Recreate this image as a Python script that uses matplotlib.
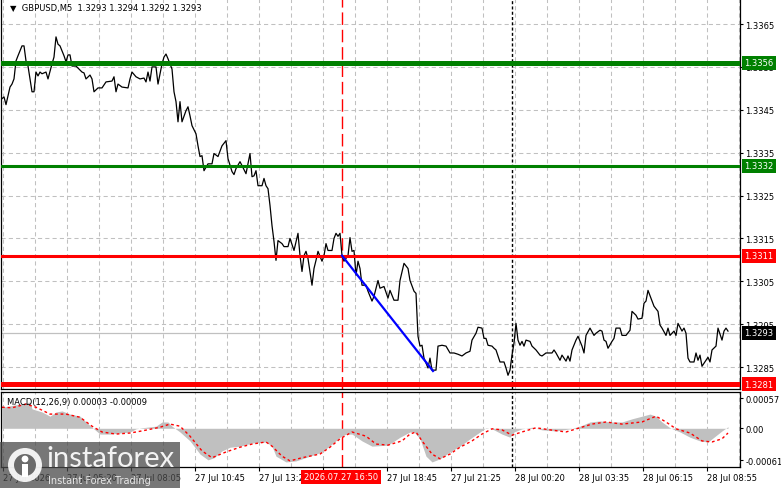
import numpy as np
import matplotlib.pyplot as plt
import matplotlib.transforms as mtransforms
from matplotlib.patches import Rectangle, Circle

# ---- data (bar index = 5 minute step) ----
price_pts = [
    (1, 1.33476), (2, 1.33480), (3, 1.33462), (5, 1.33503), (6, 1.33510), (7, 1.33522), (8, 1.33564),
    (9, 1.33576), (11, 1.33599), (12, 1.33599), (13, 1.33564), (14, 1.33552), (16, 1.33492), (17, 1.33492),
    (18, 1.33538), (19, 1.33529), (20, 1.33538), (21, 1.33534), (23, 1.33538), (24, 1.33522), (26, 1.33557),
    (27, 1.33573), (28, 1.33620), (29, 1.33603), (30, 1.33599), (32, 1.33576), (33, 1.33562), (34, 1.33578),
    (35, 1.33578), (36, 1.33552), (38, 1.33552), (41, 1.33538), (42, 1.33536), (43, 1.33522), (45, 1.33531),
    (46, 1.33522), (47, 1.33492), (49, 1.33501), (51, 1.33501), (53, 1.33515), (56, 1.33517), (57, 1.33527),
    (58, 1.33492), (59, 1.33510), (61, 1.33503), (64, 1.33501), (65, 1.33522), (66, 1.33538), (68, 1.33527),
    (70, 1.33522), (72, 1.33524), (73, 1.33515), (74, 1.33538), (75, 1.33517), (76, 1.33550), (78, 1.33550),
    (79, 1.33510), (81, 1.33557), (82, 1.33573), (83, 1.33580), (84, 1.33569), (86, 1.33545), (87, 1.33492),
    (88, 1.33469), (89, 1.33422), (90, 1.33469), (91, 1.33422), (93, 1.33448), (94, 1.33457), (95, 1.33436),
    (96, 1.33413), (98, 1.33394), (99, 1.33366), (100, 1.33341), (101, 1.33343), (102, 1.33308), (104, 1.33324),
    (106, 1.33324), (107, 1.33348), (109, 1.33341), (111, 1.33366), (113, 1.33378), (114, 1.33336), (116, 1.33306),
    (117, 1.33299), (118, 1.33313), (120, 1.33329), (121, 1.33320), (123, 1.33301), (124, 1.33324), (125, 1.33348),
    (126, 1.33294), (127, 1.33296), (128, 1.33308), (129, 1.33273), (131, 1.33273), (132, 1.33290), (133, 1.33273),
    (134, 1.33266), (135, 1.33227), (136, 1.33180), (137, 1.33143), (138, 1.33099), (139, 1.33145), (141, 1.33138),
    (142, 1.33131), (144, 1.33131), (145, 1.33150), (147, 1.33122), (149, 1.33162), (150, 1.33110), (151, 1.33073),
    (152, 1.33110), (153, 1.33120), (154, 1.33103), (156, 1.33041), (157, 1.33080), (158, 1.33099), (159, 1.33120),
    (161, 1.33097), (162, 1.33110), (163, 1.33138), (164, 1.33122), (166, 1.33122), (167, 1.33150), (168, 1.33162),
    (169, 1.33155), (170, 1.33162), (171, 1.33110), (172, 1.33097), (174, 1.33110), (175, 1.33152), (176, 1.33120),
    (177, 1.33122), (178, 1.33064), (179, 1.33097), (180, 1.33080), (181, 1.33041), (183, 1.33041), (184, 1.33027),
    (186, 1.33004), (187, 1.33015), (189, 1.33052), (190, 1.33034), (192, 1.33038), (194, 1.33011), (195, 1.33029),
    (197, 1.33006), (199, 1.33006), (200, 1.33052), (202, 1.33092), (204, 1.33080), (205, 1.33052), (207, 1.33027),
    (208, 1.33022), (209, 1.32922), (210, 1.32899), (211, 1.32901), (212, 1.32871), (214, 1.32848), (215, 1.32871),
    (216, 1.32843), (218, 1.32843), (219, 1.32899), (221, 1.32901), (223, 1.32899), (225, 1.32883), (227, 1.32883),
    (229, 1.32880), (231, 1.32876), (233, 1.32883), (235, 1.32887), (236, 1.32913), (238, 1.32929), (239, 1.32943),
    (241, 1.32941), (242, 1.32917), (243, 1.32917), (244, 1.32901), (246, 1.32899), (247, 1.32894), (248, 1.32890),
    (249, 1.32876), (250, 1.32862), (252, 1.32862), (253, 1.32848), (254, 1.32831), (255, 1.32843), (256, 1.32878),
    (257, 1.32906), (258, 1.32952), (259, 1.32913), (260, 1.32901), (261, 1.32910), (262, 1.32899), (263, 1.32913),
    (265, 1.32910), (266, 1.32899), (268, 1.32890), (270, 1.32878), (271, 1.32876), (273, 1.32883), (276, 1.32883),
    (277, 1.32890), (278, 1.32883), (280, 1.32866), (281, 1.32878), (283, 1.32864), (284, 1.32876), (285, 1.32864),
    (286, 1.32890), (288, 1.32913), (289, 1.32922), (291, 1.32899), (292, 1.32883), (293, 1.32924), (295, 1.32941),
    (297, 1.32924), (298, 1.32929), (300, 1.32936), (301, 1.32934), (302, 1.32913), (303, 1.32910), (304, 1.32894),
    (306, 1.32910), (307, 1.32917), (308, 1.32941), (310, 1.32941), (311, 1.32924), (313, 1.32924), (315, 1.32936),
    (316, 1.32980), (318, 1.32971), (319, 1.32962), (321, 1.32964), (322, 1.32999), (323, 1.33004), (324, 1.33029),
    (326, 1.33004), (327, 1.32992), (329, 1.32980), (330, 1.32948), (331, 1.32941), (333, 1.32924), (334, 1.32941),
    (335, 1.32924), (337, 1.32934), (338, 1.32924), (339, 1.32952), (341, 1.32934), (342, 1.32941), (343, 1.32929),
    (344, 1.32871), (345, 1.32862), (347, 1.32862), (348, 1.32883), (349, 1.32866), (350, 1.32878), (351, 1.32852),
    (353, 1.32866), (354, 1.32873), (355, 1.32862), (356, 1.32890), (358, 1.32899), (359, 1.32941), (361, 1.32913),
    (362, 1.32934), (363, 1.32941), (364, 1.32934),
]

# MACD histogram (main line) in units of 1e-5
macd_pts = [
    (1, 40), (10, 46), (15, 50), (16, 37), (21, 31), (25, 23), (28, 31), (31, 33), (35, 27), (40, 23),
    (43, 12), (46, 2), (50, -11), (55, -11), (60, -9), (65, -7), (68, -1), (71, 1), (78, 4), (81, 12),
    (84, 12), (86, 4), (90, -7), (95, -24), (100, -49), (104, -60), (107, -56), (111, -43), (115, -36),
    (120, -34), (126, -28), (133, -26), (136, -34), (138, -53), (143, -64), (148, -62), (155, -53),
    (161, -45), (166, -30), (170, -17), (173, -11), (176, -11), (181, -24), (186, -34), (194, -32),
    (200, -17), (205, -7), (207, -7), (210, -20), (213, -53), (216, -64), (220, -58), (225, -45),
    (230, -34), (235, -20), (240, -7), (243, 1), (246, -1), (251, -11), (255, -17), (257, -7), (261, -1),
    (266, 2), (271, -3), (278, -5), (285, -1), (290, 4), (295, 12), (300, 14), (305, 12), (311, 12),
    (316, 18), (321, 23), (325, 27), (328, 23), (331, 12), (335, 1), (340, -7), (345, -17), (350, -24),
    (354, -26), (357, -17), (361, -5), (364, 3),
]

# MACD signal line in units of 1e-5
signal_pts = [
    (1, 40), (6, 39), (13, 46), (18, 40), (25, 27), (33, 27), (40, 21), (46, 4), (51, -7), (58, -11),
    (65, -9), (71, -5), (80, 2), (85, 8), (90, 4), (95, -15), (101, -43), (106, -56), (113, -45),
    (120, -36), (126, -30), (133, -26), (136, -34), (141, -53), (145, -62), (151, -56), (160, -49),
    (165, -36), (170, -20), (176, -7), (183, -15), (188, -30), (194, -32), (201, -24), (205, -11),
    (208, -7), (211, -24), (216, -49), (220, -58), (225, -49), (230, -36), (236, -24), (241, -11),
    (246, -1), (251, -3), (256, -13), (261, -7), (268, 1), (275, -3), (283, -7), (290, 1), (296, 8),
    (303, 12), (311, 8), (321, 12), (328, 23), (333, 12), (338, -1), (345, -9), (351, -24), (356, -26),
    (361, -20), (364, -9),
]

levels = [1.3356, 1.3332, 1.3311, 1.3281]
level_colors = ['#008000', '#008000', '#ff0000', '#ff0000']
last_price = 1.3293
trend_bar = [171, 216.5]
trend_price = [1.3311, 1.32841]
event_bar = 171
session_bar = 256
price_ticks = [1.3285, 1.3295, 1.3305, 1.3315, 1.3325, 1.3335, 1.3345, 1.3355, 1.3365]
time_labels = ['27 Jul 2026', '27 Jul 05:20', '27 Jul 08:05', '27 Jul 10:45', '27 Jul 13:25', '',
               '27 Jul 18:45', '27 Jul 21:25', '28 Jul 00:20', '28 Jul 03:35', '28 Jul 06:15', '28 Jul 08:55']
title = '\u25bc  GBPUSD,M5  1.3293 1.3294 1.3292 1.3293'
macd_title = 'MACD(12,26,9) 0.00003 -0.00009'
event_label = '2026.07.27 16:50'

price_bar, price = zip(*price_pts)
macd_bar, macd_val = zip(*macd_pts)
sig_bar, sig_val = zip(*signal_pts)
macd_val = np.array(macd_val) * 1e-5
sig_val = np.array(sig_val) * 1e-5

# ---- figure in pixel units ----
W, H = 781, 489
fig = plt.figure(figsize=(W / 100, H / 100), dpi=100)
fig.patch.set_facecolor('white')


def px_axes(x0, y0, x1, y1):
    return fig.add_axes([x0 / W, 1 - y1 / H, (x1 - x0) / W, (y1 - y0) / H])


FS = 6
ax = px_axes(1, -2, 740, 390)
ax2 = px_axes(1, 393, 740, 468)
grid_x = np.arange(1.5, 370, 16)

for a in (ax, ax2):
    a.set_xlim(0.5, 370)
    for s in a.spines.values():
        s.set_color('black')
        s.set_linewidth(0.9)
    for g in grid_x:
        a.axvline(g, color='#c0c0c0', ls=(0, (4, 3)), lw=0.75, zorder=0)
    a.axvline(event_bar, color='#ff0000', ls=(0, (9, 3.5)), lw=1.0, zorder=1)
    a.axvline(session_bar, color='black', ls=(0, (2.2, 1.6)), lw=1.0, zorder=1)
    a.yaxis.tick_right()
    a.tick_params(axis='y', direction='out', length=2.5, width=0.8, pad=1.5, labelsize=FS)

# main price panel
ax.spines['top'].set_visible(False)
ax.set_ylim(1.32799, 1.33713)
ax.set_yticks(price_ticks)
ax.set_yticklabels(['%.4f' % t for t in price_ticks])
for t in price_ticks:
    ax.axhline(t, color='#c0c0c0', ls=(0, (4, 3)), lw=0.75, zorder=0)
ax.set_xticks([])
ax.axhline(last_price, color='#c0c0c0', lw=0.9, zorder=1)
ax.plot(price_bar, price, color='black', lw=0.9, zorder=2)
ax.plot(trend_bar, trend_price, color='#0000ff', lw=1.6, zorder=4)

ytrans = ax.get_yaxis_transform()
for lv, c, w in zip(levels, level_colors, [3.6, 2.2, 2.2, 3.6]):
    ax.axhline(lv, color=c, lw=w, zorder=3)
    ax.text(1.006, lv, '%.4f' % lv, transform=ytrans, color='white', fontsize=FS, va='center',
            ha='left', clip_on=False, zorder=6,
            bbox=dict(boxstyle='square,pad=0.3', fc=c, ec='none'))
ax.text(1.006, last_price, '%.4f' % last_price, transform=ytrans, color='white', fontsize=FS,
        va='center', ha='left', clip_on=False, zorder=6,
        bbox=dict(boxstyle='square,pad=0.3', fc='black', ec='none'))

# MACD panel
ax2.set_ylim(-0.000736, 0.00069)
ax2.fill_between(macd_bar, macd_val, 0, color='#c0c0c0', lw=0, zorder=1)
ax2.plot(sig_bar, sig_val, color='#ff0000', ls=(0, (2, 2)), lw=1.0, zorder=2)
ax2.set_yticks([0.00057, 0.0, -0.00061])
ax2.set_yticklabels(['0.00057', '0.00', '-0.00061'])
ax2.set_xticks(grid_x[::2])
ax2.set_xticklabels(time_labels, ha='left')
ax2.tick_params(axis='x', direction='out', length=3, width=0.8, pad=1.5, labelsize=FS)
ax2.text(6 / 739, 0.93, macd_title, transform=ax2.transAxes, fontsize=FS, va='top', ha='left')

fig.text(10 / W, 1 - 9 / H, title, fontsize=FS, va='center', ha='left')

# event date box on the time scale
fig.text(341 / W, 1 - 478 / H, event_label, fontsize=FS, color='white', ha='center', va='center',
         bbox=dict(boxstyle='square,pad=0.35', fc='#ff0000', ec='none'), zorder=10)

# watermark
px = mtransforms.IdentityTransform()
fig.add_artist(Rectangle((0, 0), 180, 46, transform=px, fc='#4a4a4a', ec='none', alpha=0.75, zorder=8))
fig.add_artist(Circle((25, H - 466), 17, transform=px, fc='white', ec='none', alpha=0.9, zorder=9))
fig.add_artist(Circle((25, H - 466), 11, transform=px, fc='#6a6a6a', ec='none', zorder=9))
fig.add_artist(Circle((25, H - 460), 3.4, transform=px, fc='white', ec='none', zorder=9))
fig.add_artist(Rectangle((22, H - 478), 6, 13, transform=px, fc='white', ec='none', zorder=9))
fig.text(46 / W, 1 - 459 / H, 'instaforex', fontsize=21, color='white', family='Lato',
         ha='left', va='center', alpha=0.92, zorder=10)
fig.text(48 / W, 1 - 481 / H, 'Instant Forex Trading', fontsize=7, color='#e8e8e8',
         ha='left', va='center', zorder=10)

fig.savefig('out.png', dpi=100)
